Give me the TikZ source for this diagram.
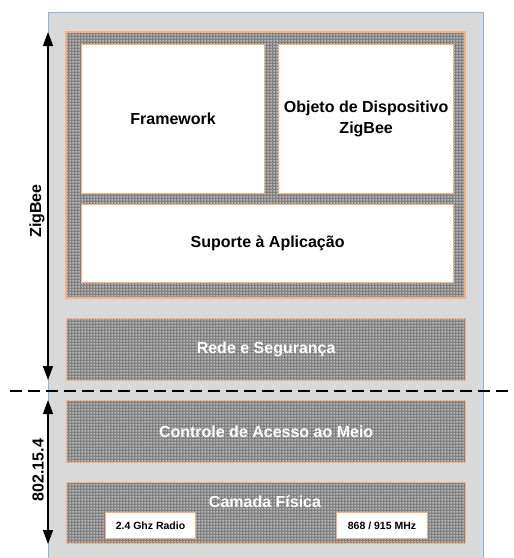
\documentclass[tikz,border=0pt]{standalone}
\usepackage{fontspec}
\setmainfont{Liberation Sans}
\usetikzlibrary{patterns,arrows.meta}
\definecolor{bgray}{HTML}{D9D9D9}
\definecolor{bblue}{HTML}{8EB4E3}
\definecolor{borange}{HTML}{F4B183}
\definecolor{patbase}{HTML}{808080}
\definecolor{patdot}{HTML}{BDBDBD}
\pgfdeclarepatternformonly{sqdots}{\pgfpointorigin}{\pgfpoint{3pt}{3pt}}{\pgfpoint{3pt}{3pt}}{%
  \pgfpathrectangle{\pgfpoint{0.5pt}{0.5pt}}{\pgfpoint{1.9pt}{1.9pt}}\pgfusepath{fill}}
\tikzset{
  outerbox/.style={draw=bblue, line width=1pt, fill=bgray},
  dotbox/.style={draw=borange, line width=1.3pt, preaction={fill=patbase}, pattern=sqdots, pattern color=patdot,
    font=\bfseries\fontsize{16}{20}\selectfont, text=white},
  whitebox/.style={draw=borange, line width=1.3pt, fill=white,
    font=\bfseries\fontsize{16}{21}\selectfont, align=center},
  smallbox/.style={draw=borange, line width=1pt, fill=white,
    font=\bfseries\fontsize{10.5}{12}\selectfont},
  dimarrow/.style={line width=1.4pt, {Triangle[length=14pt,width=10pt]}-{Triangle[length=14pt,width=10pt]}},
  sidelabel/.style={rotate=90, font=\bfseries\fontsize{16}{20}\selectfont},
  sep/.style={line width=1.3pt, dash pattern=on 12pt off 6pt}
}
\begin{document}
\begin{tikzpicture}[x=1pt,y=-1pt]
\useasboundingbox (0,0) rectangle (514,558);
% outer container
\path[outerbox] (48,12) rectangle (483,570);
% ZigBee group
\path[dotbox] (66,32) rectangle (465,298);
\node[whitebox, anchor=north west, minimum width=183pt, minimum height=149pt] (fw) at (81,44) {Framework};
\node[whitebox, anchor=north west, minimum width=175pt, minimum height=149pt] (zdo) at (278,44) {Objeto de Dispositivo\\ZigBee};
\node[whitebox, anchor=north west, minimum width=372pt, minimum height=78pt] (aps) at (81,204) {Suporte à Aplicação};
% lower layers
\node[dotbox, anchor=north west, minimum width=399pt, minimum height=62pt] (nwk) at (66,318) {Rede e Segurança};
\node[dotbox, anchor=north west, minimum width=399pt, minimum height=62pt] (mac) at (66,400) {Controle de Acesso ao Meio};
\node[dotbox, anchor=north west, minimum width=399pt, minimum height=61pt] (phy) at (66,482) {};
\node[font=\bfseries\fontsize{16}{20}\selectfont, text=white] (phyl) at (265,502) {Camada Física};
\node[smallbox, anchor=north west, minimum width=90pt, minimum height=26pt] (r24) at (105,512) {2.4 Ghz Radio};
\node[smallbox, anchor=north west, minimum width=91pt, minimum height=26pt] (r868) at (336,512) {868 / 915 MHz};
% separator
\coordinate (sepL) at (10,391);
\coordinate (sepR) at (514,391);
\draw[sep] (sepL) -- (sepR);
% dimension arrows
\coordinate (zbT) at (48,32);
\coordinate (zbB) at (48,380);
\coordinate (ieT) at (48,400);
\coordinate (ieB) at (48,544);
\draw[dimarrow] (zbT) -- (zbB);
\draw[dimarrow] (ieT) -- (ieB);
\node[sidelabel] (zbl) at (37,211) {ZigBee};
\node[sidelabel] (iel) at (38,470) {802.15.4};
\end{tikzpicture}
\end{document}
